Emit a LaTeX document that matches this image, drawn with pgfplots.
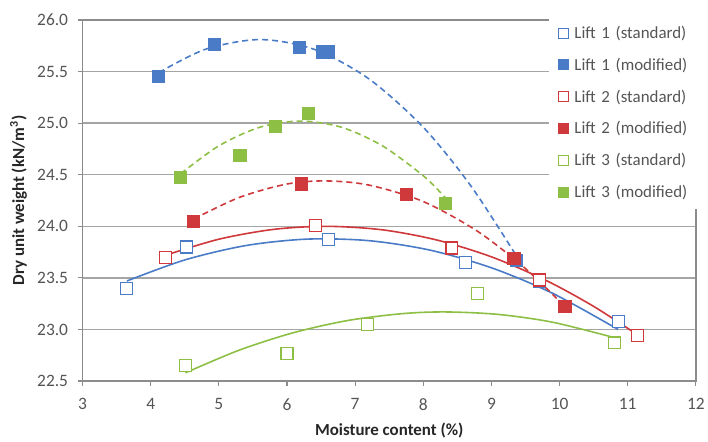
\documentclass[border=0pt]{standalone}
\usepackage{pgfplots}
\pgfplotsset{compat=1.18}
\usepackage{fontspec}
\setmainfont{Carlito}
\definecolor{cblue}{HTML}{4A7BC6}
\definecolor{cred}{HTML}{D0393B}
\definecolor{cgreen}{HTML}{8DBF45}
\definecolor{tgray}{HTML}{555555}
\definecolor{ggray}{HTML}{A5A5A5}
\definecolor{agray}{HTML}{8C8C8C}
\begin{document}
\begin{tikzpicture}
\begin{axis}[
  name=ax,
  scale only axis,
  width=614.3bp, height=361.7bp,
  xmin=3, xmax=12, ymin=22.5, ymax=26,
  xtick={3,4,...,12},
  ytick={22.5,23,...,26},
  yticklabel style={/pgf/number format/fixed,/pgf/number format/fixed zerofill,/pgf/number format/precision=1, xshift=-6bp},
  /pgf/number format/assume math mode=true,
  tick label style={font=\fontsize{17.5}{20}\selectfont, text=tgray},
  xticklabel style={yshift=-9bp},
  tick align=outside,
  major tick length=5bp,
  tick style={agray, line width=1.2bp},
  xtick pos=bottom, ytick pos=left,
  axis line style={agray, line width=1.4bp},
  ymajorgrids,
  grid style={ggray, line width=1.3bp},
  xlabel={\textbf{Moisture content (\%)}},
  ylabel={\textbf{Dry unit weight (kN/m\textsuperscript{3})}},
  label style={font=\fontsize{17}{20}\selectfont, text=black!85},
  xlabel style={at={(axis description cs:0.5,0)}, anchor=center, yshift=-50bp},
  ylabel style={at={(axis description cs:0,0.5)}, anchor=center, yshift=64bp},
  legend style={at={(axis description cs:0.7607,1.011)}, anchor=north west,
    fill=white, draw=none, font=\fontsize{17}{20}\selectfont, text=tgray,
    row sep=14bp, inner xsep=4bp, inner ysep=8bp,
    nodes={text width=118bp, align=left, inner xsep=1bp, fill=none}},
  legend cell align=left,
  legend image code/.code={\path (-10bp,0bp) (9bp,0bp);\draw[#1, mark size=5bp, line width=1.1bp] plot coordinates {(0bp,0bp)};},
  clip=false,
]
% ---- trendlines ----
\addplot[cblue, line width=1.6bp, smooth, forget plot] coordinates {
(3.65,23.47)(4.5,23.674)(5.4,23.814)(6.3,23.876)(7.2,23.861)(8.1,23.769)(9.0,23.598)(9.9,23.35)(10.86,23.00)};
\addplot[cred, line width=1.6bp, smooth, forget plot] coordinates {
(4.22,23.72)(5.0,23.875)(5.8,23.97)(6.58,24.0)(7.4,23.966)(8.2,23.867)(9.0,23.704)(9.8,23.476)(10.5,23.224)(11.14,22.95)};
\addplot[cgreen, line width=1.6bp, smooth, forget plot] coordinates {
(4.51,22.58)(5.3,22.80)(6.1,22.97)(6.9,23.088)(7.7,23.154)(8.33,23.17)(9.1,23.146)(9.9,23.07)(10.81,22.92)};
\addplot[cblue, line width=1.6bp, smooth, dash pattern=on 6bp off 4bp, forget plot] coordinates {
(4.12,25.49)(4.8,25.715)(5.6,25.81)(6.4,25.715)(7.2,25.43)(8.0,24.96)(8.7,24.39)(9.37,23.71)};
\addplot[cred, line width=1.6bp, smooth, dash pattern=on 6bp off 4bp, forget plot] coordinates {
(4.63,24.07)(5.3,24.28)(6.0,24.41)(6.57,24.44)(7.2,24.40)(8.0,24.24)(8.8,23.95)(9.5,23.59)(10.08,23.22)};
\addplot[cgreen, line width=1.6bp, smooth, dash pattern=on 6bp off 4bp, forget plot] coordinates {
(4.44,24.51)(5.0,24.78)(5.6,24.96)(6.2,25.02)(6.8,24.96)(7.4,24.78)(8.0,24.49)(8.32,24.28)};
% ---- data ----
\addplot[only marks, mark=square*, mark size=6bp, cblue, fill=white, line width=1.2bp] coordinates {
(3.65,23.40)(4.53,23.80)(6.61,23.87)(8.62,23.65)(9.70,23.47)(10.86,23.08)};
\addlegendentry{Lift 1 (standard)}
\addplot[only marks, mark=square*, mark size=6bp, cblue, line width=1.2bp] coordinates {
(4.12,25.45)(4.94,25.76)(6.18,25.73)(6.52,25.69)(6.61,25.69)(9.37,23.67)};
\addlegendentry{Lift 1 (modified)}
\addplot[only marks, mark=square*, mark size=6bp, cred, fill=white, line width=1.2bp] coordinates {
(4.22,23.70)(6.42,24.01)(8.42,23.79)(9.70,23.48)(11.14,22.94)};
\addlegendentry{Lift 2 (standard)}
\addplot[only marks, mark=square*, mark size=6bp, cred, line width=1.2bp] coordinates {
(4.63,24.05)(6.21,24.41)(7.75,24.31)(9.33,23.69)(10.08,23.22)};
\addlegendentry{Lift 2 (modified)}
\addplot[only marks, mark=square*, mark size=6bp, cgreen, fill=white, line width=1.2bp] coordinates {
(4.51,22.65)(6.00,22.77)(7.18,23.05)(8.80,23.35)(10.81,22.87)};
\addlegendentry{Lift 3 (standard)}
\addplot[only marks, mark=square*, mark size=6bp, cgreen, line width=1.2bp] coordinates {
(4.44,24.47)(5.31,24.69)(5.83,24.97)(6.32,25.09)(8.32,24.22)};
\addlegendentry{Lift 3 (modified)}
\end{axis}
\path[use as bounding box] ([xshift=-82.7bp,yshift=-58.3bp]ax.south west) rectangle ([xshift=11bp,yshift=20bp]ax.north east);
\end{tikzpicture}
\end{document}
